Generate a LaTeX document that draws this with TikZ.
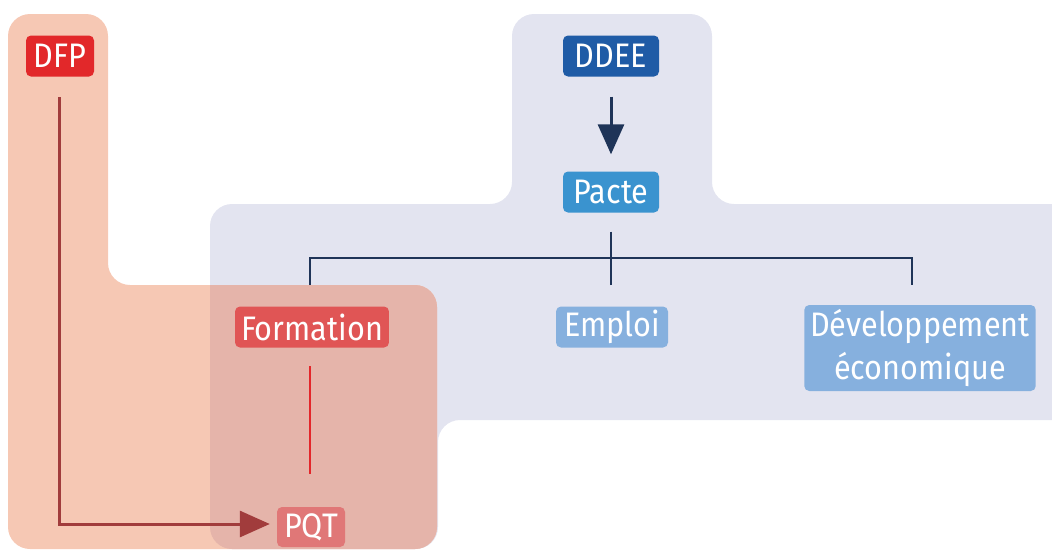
\documentclass[tikz,border=0pt]{standalone}
\usepackage{fontspec}
\setmainfont{Fira Sans}[FakeStretch=0.9]
\usetikzlibrary{arrows.meta}
\definecolor{bluezone}{HTML}{E3E4F0}
\definecolor{salmonzone}{HTML}{F6C8B4}
\definecolor{mixzone}{HTML}{E5B4AA}
\definecolor{dfpred}{HTML}{E2282A}
\definecolor{ddeeblue}{HTML}{1F5BA6}
\definecolor{pacteblue}{HTML}{3A93CF}
\definecolor{lightblue}{HTML}{86B0DE}
\definecolor{formred}{HTML}{E05555}
\definecolor{pqtred}{HTML}{E07777}
\definecolor{navy}{HTML}{1F3458}
\definecolor{darkred}{HTML}{A13C3C}
\definecolor{linered}{HTML}{E3262A}
\tikzset{
  label box/.style={rounded corners=5pt, text=white, minimum height=41pt,
    inner xsep=6pt, inner ysep=0pt, font=\fontsize{34}{43}\selectfont, align=center},
  tree/.style={draw=navy, line width=2.8pt},
  big arrow/.style={line width=3pt, -{Triangle[width=26pt,length=30pt]}},
}
\begin{document}
\begin{tikzpicture}[x=1pt,y=-1pt]
\useasboundingbox (0,0) rectangle (1052,549);

% blue zone (DDEE and its pact)
\def\bluepath{(210,549) -- (210,204) -- (512,204) -- (512,14) -- (712,14) -- (712,204)
  -- (1080,204) -- (1080,420) -- (438,420) -- (438,549) -- cycle}
% salmon zone (DFP)
\def\salmonpath{(8,549) -- (8,14) -- (108,14) -- (108,285) -- (437,285) -- (437,549) -- cycle}

\fill[bluezone, rounded corners=22pt] \bluepath;
\fill[salmonzone, rounded corners=22pt] \salmonpath;
\begin{scope}
  \clip[rounded corners=22pt] \salmonpath;
  \fill[mixzone, rounded corners=22pt] \bluepath;
\end{scope}

% nodes
\node[label box, fill=dfpred, minimum width=68pt] (dfp) at (60,56) {DFP};
\node[label box, fill=ddeeblue, minimum width=96pt] (ddee) at (611,56) {DDEE};
\node[label box, fill=pacteblue, minimum width=96pt] (pacte) at (611,192) {Pacte};
\node[label box, fill=formred, minimum width=153pt] (formation) at (312,327) {Formation};
\node[label box, fill=lightblue, minimum width=112pt] (emploi) at (612,327) {Emploi};
\node[label box, fill=lightblue, minimum width=227pt, minimum height=86pt] (dev) at (920,348)
  {Développement\\économique};
\node[label box, fill=pqtred, minimum width=68pt, minimum height=40pt] (pqt) at (311,527) {PQT};

% connector points
\coordinate (bus) at (611,258);
\coordinate (fTop) at (310,285);
\coordinate (eTop) at (611,285);
\coordinate (dTop) at (912,285);
\coordinate (fBot) at (310,366);
\coordinate (qTop) at (310,474);
\coordinate (dfpLow) at (59,97);
\coordinate (bend) at (59,524);

\draw[big arrow, navy, shorten <=20pt, shorten >=17pt] (ddee) -- (pacte);
\draw[tree] ([yshift=-19pt]pacte.south) -- (bus);
\draw[tree] (fTop) |- (bus) -| (dTop);
\draw[tree] (eTop) -- (bus);

\draw[linered, line width=2.6pt] (fBot) -- (qTop);

\draw[big arrow, darkred, shorten >=7pt] (dfpLow) -- (bend) -- (bend -| pqt.west);
\end{tikzpicture}
\end{document}
